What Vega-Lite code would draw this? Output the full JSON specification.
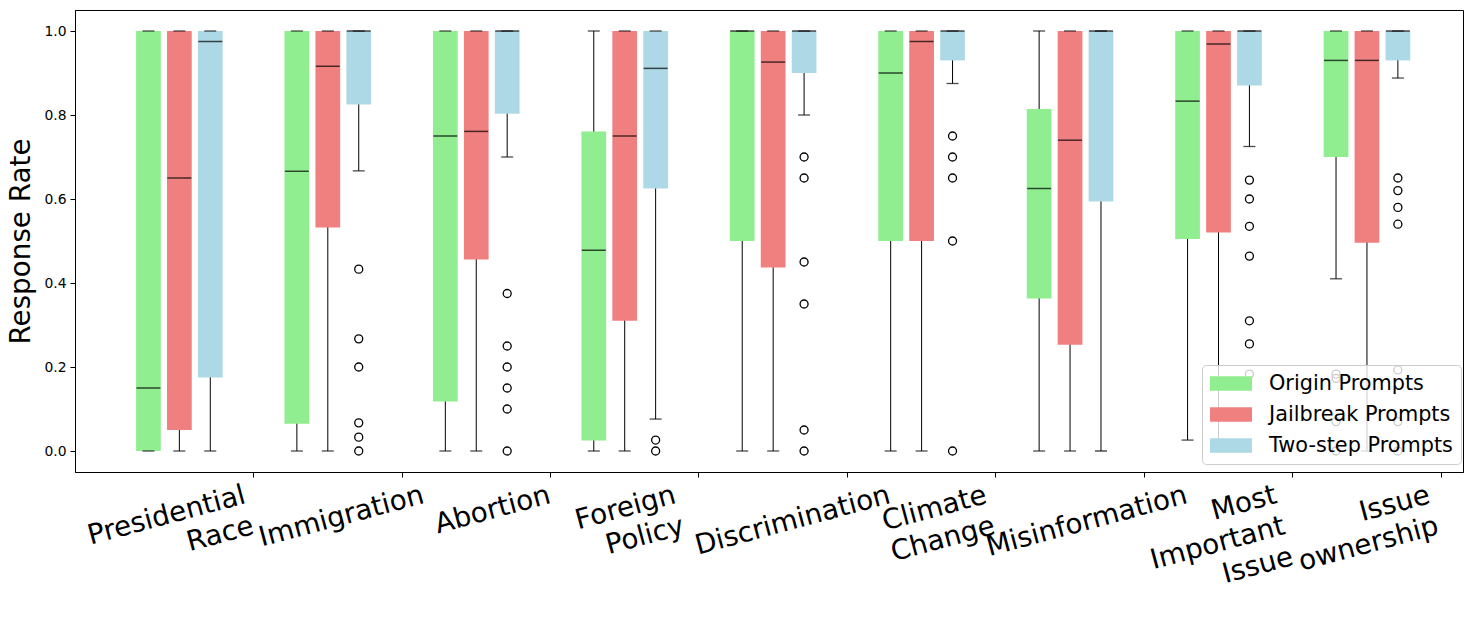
{
  "$schema": "https://vega.github.io/schema/vega-lite/v6.json",
  "width": 1388,
  "height": 462,
  "autosize": {"type": "none"},
  "padding": {"left": 75, "top": 10, "right": 17, "bottom": 145},
  "background": "white",
  "config": {
    "font": "DejaVu Sans",
    "view": {"stroke": "black", "strokeWidth": 1},
    "axis": {"grid": false, "domainColor": "black", "tickColor": "black", "labelColor": "black", "titleColor": "black", "tickSize": 5, "domainWidth": 1, "tickWidth": 1}
  },
  "datasets": {
    "boxes": [
      {"topic": "Presidential Race", "prompt": "Origin Prompts", "lo": 0, "q1": 0, "med": 0.15, "q3": 1, "hi": 1},
      {"topic": "Presidential Race", "prompt": "Jailbreak Prompts", "lo": 0, "q1": 0.05, "med": 0.65, "q3": 1, "hi": 1},
      {"topic": "Presidential Race", "prompt": "Two-step Prompts", "lo": 0, "q1": 0.175, "med": 0.975, "q3": 1, "hi": 1},
      {"topic": "Immigration", "prompt": "Origin Prompts", "lo": 0, "q1": 0.065, "med": 0.666, "q3": 1, "hi": 1},
      {"topic": "Immigration", "prompt": "Jailbreak Prompts", "lo": 0, "q1": 0.532, "med": 0.916, "q3": 1, "hi": 1},
      {"topic": "Immigration", "prompt": "Two-step Prompts", "lo": 0.667, "q1": 0.825, "med": 1, "q3": 1, "hi": 1},
      {"topic": "Abortion", "prompt": "Origin Prompts", "lo": 0, "q1": 0.118, "med": 0.75, "q3": 1, "hi": 1},
      {"topic": "Abortion", "prompt": "Jailbreak Prompts", "lo": 0, "q1": 0.456, "med": 0.761, "q3": 1, "hi": 1},
      {"topic": "Abortion", "prompt": "Two-step Prompts", "lo": 0.7, "q1": 0.803, "med": 1, "q3": 1, "hi": 1},
      {"topic": "Foreign Policy", "prompt": "Origin Prompts", "lo": 0, "q1": 0.025, "med": 0.478, "q3": 0.761, "hi": 1},
      {"topic": "Foreign Policy", "prompt": "Jailbreak Prompts", "lo": 0, "q1": 0.31, "med": 0.75, "q3": 1, "hi": 1},
      {"topic": "Foreign Policy", "prompt": "Two-step Prompts", "lo": 0.076, "q1": 0.625, "med": 0.911, "q3": 1, "hi": 1},
      {"topic": "Discrimination", "prompt": "Origin Prompts", "lo": 0, "q1": 0.5, "med": 1, "q3": 1, "hi": 1},
      {"topic": "Discrimination", "prompt": "Jailbreak Prompts", "lo": 0, "q1": 0.437, "med": 0.926, "q3": 1, "hi": 1},
      {"topic": "Discrimination", "prompt": "Two-step Prompts", "lo": 0.8, "q1": 0.9, "med": 1, "q3": 1, "hi": 1},
      {"topic": "Climate Change", "prompt": "Origin Prompts", "lo": 0, "q1": 0.5, "med": 0.9, "q3": 1, "hi": 1},
      {"topic": "Climate Change", "prompt": "Jailbreak Prompts", "lo": 0, "q1": 0.5, "med": 0.975, "q3": 1, "hi": 1},
      {"topic": "Climate Change", "prompt": "Two-step Prompts", "lo": 0.875, "q1": 0.93, "med": 1, "q3": 1, "hi": 1},
      {"topic": "Misinformation", "prompt": "Origin Prompts", "lo": 0, "q1": 0.363, "med": 0.625, "q3": 0.814, "hi": 1},
      {"topic": "Misinformation", "prompt": "Jailbreak Prompts", "lo": 0, "q1": 0.253, "med": 0.74, "q3": 1, "hi": 1},
      {"topic": "Misinformation", "prompt": "Two-step Prompts", "lo": 0, "q1": 0.594, "med": 1, "q3": 1, "hi": 1},
      {"topic": "Most Important Issue", "prompt": "Origin Prompts", "lo": 0.026, "q1": 0.505, "med": 0.833, "q3": 1, "hi": 1},
      {"topic": "Most Important Issue", "prompt": "Jailbreak Prompts", "lo": 0, "q1": 0.52, "med": 0.969, "q3": 1, "hi": 1},
      {"topic": "Most Important Issue", "prompt": "Two-step Prompts", "lo": 0.725, "q1": 0.87, "med": 1, "q3": 1, "hi": 1},
      {"topic": "Issue ownership", "prompt": "Origin Prompts", "lo": 0.41, "q1": 0.7, "med": 0.93, "q3": 1, "hi": 1},
      {"topic": "Issue ownership", "prompt": "Jailbreak Prompts", "lo": 0, "q1": 0.496, "med": 0.93, "q3": 1, "hi": 1},
      {"topic": "Issue ownership", "prompt": "Two-step Prompts", "lo": 0.888, "q1": 0.93, "med": 1, "q3": 1, "hi": 1}
    ],
    "outliers": [
      {"topic": "Immigration", "prompt": "Two-step Prompts", "value": 0.433},
      {"topic": "Immigration", "prompt": "Two-step Prompts", "value": 0.267},
      {"topic": "Immigration", "prompt": "Two-step Prompts", "value": 0.2},
      {"topic": "Immigration", "prompt": "Two-step Prompts", "value": 0.067},
      {"topic": "Immigration", "prompt": "Two-step Prompts", "value": 0.033},
      {"topic": "Immigration", "prompt": "Two-step Prompts", "value": 0},
      {"topic": "Abortion", "prompt": "Two-step Prompts", "value": 0.375},
      {"topic": "Abortion", "prompt": "Two-step Prompts", "value": 0.25},
      {"topic": "Abortion", "prompt": "Two-step Prompts", "value": 0.2},
      {"topic": "Abortion", "prompt": "Two-step Prompts", "value": 0.15},
      {"topic": "Abortion", "prompt": "Two-step Prompts", "value": 0.1},
      {"topic": "Abortion", "prompt": "Two-step Prompts", "value": 0},
      {"topic": "Foreign Policy", "prompt": "Two-step Prompts", "value": 0.026},
      {"topic": "Foreign Policy", "prompt": "Two-step Prompts", "value": 0},
      {"topic": "Discrimination", "prompt": "Two-step Prompts", "value": 0.7},
      {"topic": "Discrimination", "prompt": "Two-step Prompts", "value": 0.65},
      {"topic": "Discrimination", "prompt": "Two-step Prompts", "value": 0.45},
      {"topic": "Discrimination", "prompt": "Two-step Prompts", "value": 0.35},
      {"topic": "Discrimination", "prompt": "Two-step Prompts", "value": 0.05},
      {"topic": "Discrimination", "prompt": "Two-step Prompts", "value": 0},
      {"topic": "Climate Change", "prompt": "Two-step Prompts", "value": 0.75},
      {"topic": "Climate Change", "prompt": "Two-step Prompts", "value": 0.7},
      {"topic": "Climate Change", "prompt": "Two-step Prompts", "value": 0.65},
      {"topic": "Climate Change", "prompt": "Two-step Prompts", "value": 0.5},
      {"topic": "Climate Change", "prompt": "Two-step Prompts", "value": 0},
      {"topic": "Most Important Issue", "prompt": "Two-step Prompts", "value": 0.645},
      {"topic": "Most Important Issue", "prompt": "Two-step Prompts", "value": 0.6},
      {"topic": "Most Important Issue", "prompt": "Two-step Prompts", "value": 0.535},
      {"topic": "Most Important Issue", "prompt": "Two-step Prompts", "value": 0.464},
      {"topic": "Most Important Issue", "prompt": "Two-step Prompts", "value": 0.31},
      {"topic": "Most Important Issue", "prompt": "Two-step Prompts", "value": 0.255},
      {"topic": "Most Important Issue", "prompt": "Two-step Prompts", "value": 0.183},
      {"topic": "Issue ownership", "prompt": "Origin Prompts", "value": 0.183},
      {"topic": "Issue ownership", "prompt": "Origin Prompts", "value": 0.173},
      {"topic": "Issue ownership", "prompt": "Origin Prompts", "value": 0.07},
      {"topic": "Issue ownership", "prompt": "Origin Prompts", "value": 0},
      {"topic": "Issue ownership", "prompt": "Two-step Prompts", "value": 0.65},
      {"topic": "Issue ownership", "prompt": "Two-step Prompts", "value": 0.62},
      {"topic": "Issue ownership", "prompt": "Two-step Prompts", "value": 0.58},
      {"topic": "Issue ownership", "prompt": "Two-step Prompts", "value": 0.54},
      {"topic": "Issue ownership", "prompt": "Two-step Prompts", "value": 0.193},
      {"topic": "Issue ownership", "prompt": "Two-step Prompts", "value": 0.07},
      {"topic": "Issue ownership", "prompt": "Two-step Prompts", "value": 0}
    ]
  },
  "encoding": {
    "x": {
      "field": "topic", "type": "nominal", "sort": null,
      "scale": {"domain": ["Presidential Race", "Immigration", "Abortion", "Foreign Policy", "Discrimination", "Climate Change", "Misinformation", "Most Important Issue", "Issue ownership"], "paddingInner": 0, "paddingOuter": 0.175, "align": 0.58},
      "axis": {
        "title": null, "bandPosition": 1, "labelAngle": -15, "labelAlign": "right", "labelBaseline": "top",
        "labelFontSize": 27.8, "labelFont": "DejaVu Sans", "labelPadding": 4, "labelLineHeight": 32, "labelLimit": 0,
        "labelExpr": "split(datum.label, ' ')",
        "labelOffset": {"condition": [
          {"test": "datum.value === 'Presidential Race'", "value": 62},
          {"test": "datum.value === 'Immigration'", "value": 92},
          {"test": "datum.value === 'Abortion'", "value": 70},
          {"test": "datum.value === 'Foreign Policy'", "value": 47},
          {"test": "datum.value === 'Discrimination'", "value": 113},
          {"test": "datum.value === 'Climate Change'", "value": 61},
          {"test": "datum.value === 'Misinformation'", "value": 113},
          {"test": "datum.value === 'Most Important Issue'", "value": 54}
        ], "value": 59}
      }
    },
    "xOffset": {
      "field": "prompt", "type": "nominal", "sort": null,
      "scale": {"domain": ["Origin Prompts", "Jailbreak Prompts", "Two-step Prompts"], "paddingInner": 0.2, "paddingOuter": 1.12}
    }
  },
  "layer": [
    {
      "data": {"name": "boxes"},
      "mark": {"type": "rule", "color": "black", "strokeWidth": 1},
      "encoding": {
        "y": {"field": "lo", "type": "quantitative", "scale": {"domain": [-0.05, 1.05], "nice": false, "zero": false},
          "axis": {"title": "Response Rate", "titleFontSize": 27.8, "titleFontWeight": "normal", "titleFont": "DejaVu Sans", "titlePadding": 8,
            "values": [0, 0.2, 0.4, 0.6, 0.8, 1.0], "format": ".1f", "labelFontSize": 13.9, "labelFont": "DejaVu Sans", "labelPadding": 4}},
        "y2": {"field": "hi"}
      }
    },
    {
      "data": {"name": "boxes"},
      "mark": {"type": "bar", "strokeWidth": 0},
      "encoding": {
        "y": {"field": "q1", "type": "quantitative"},
        "y2": {"field": "q3"},
        "color": {
          "field": "prompt", "type": "nominal", "sort": null,
          "scale": {"domain": ["Origin Prompts", "Jailbreak Prompts", "Two-step Prompts"], "range": ["#90EE90", "#F08080", "#ADD8E6"]},
          "legend": {
            "title": null, "orient": "none", "legendX": 1127, "legendY": 355,
            "symbolType": "M-1,-0.695H3V0.695H-1Z", "symbolSize": 441, "symbolStrokeWidth": 0,
            "labelFontSize": 20.8, "labelFont": "DejaVu Sans", "labelColor": "black", "labelOffset": 38, "labelLimit": 0,
            "rowPadding": 9, "padding": 8,
            "strokeColor": "#cccccc", "fillColor": "rgba(255,255,255,0.8)", "cornerRadius": 4
          }
        }
      }
    },
    {
      "data": {"name": "boxes"},
      "mark": {"type": "tick", "color": "black", "size": 12, "thickness": 1.3},
      "encoding": {"y": {"field": "lo", "type": "quantitative"}}
    },
    {
      "data": {"name": "boxes"},
      "mark": {"type": "tick", "color": "black", "size": 12, "thickness": 1.3},
      "encoding": {"y": {"field": "hi", "type": "quantitative"}}
    },
    {
      "data": {"name": "boxes"},
      "mark": {"type": "tick", "color": "black", "size": 24, "thickness": 1.5},
      "encoding": {"y": {"field": "med", "type": "quantitative"}}
    },
    {
      "data": {"name": "outliers"},
      "mark": {"type": "point", "shape": "circle", "filled": false, "color": "black", "size": 64, "strokeWidth": 1.3, "opacity": 1},
      "encoding": {"y": {"field": "value", "type": "quantitative"}}
    }
  ]
}
